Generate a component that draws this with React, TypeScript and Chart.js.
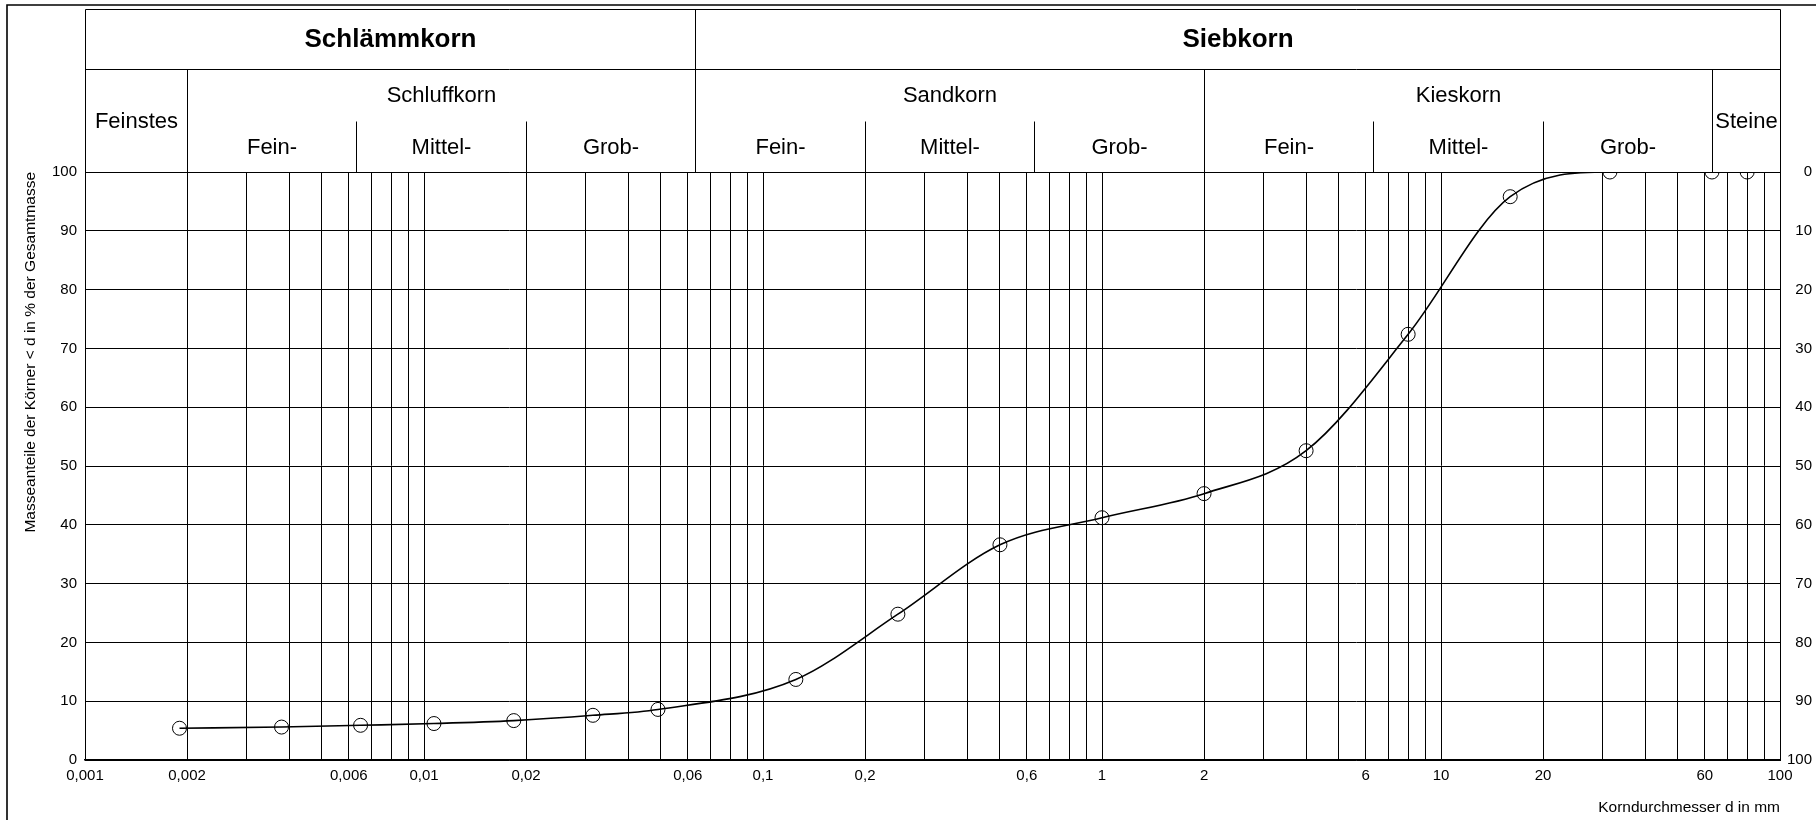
import React, { useEffect, useRef } from 'react';
import { Chart, registerables } from 'chart.js';

Chart.register(...registerables);

// Sieve / sedimentation results: grain diameter d [mm] and mass passing [%]
const grainSize = [0.0019, 0.0038, 0.0065, 0.0107, 0.0184, 0.0315, 0.049, 0.125, 0.25, 0.5, 1, 2, 4, 8, 16, 31.5, 63, 80];
const passing = [5.4, 5.6, 5.9, 6.2, 6.7, 7.6, 8.6, 13.7, 24.8, 36.6, 41.2, 45.3, 52.6, 72.4, 95.8, 100, 100, 100];

// Labelled diameters on the grain-size axis
const xLabelValues = [0.001, 0.002, 0.006, 0.01, 0.02, 0.06, 0.1, 0.2, 0.6, 1, 2, 6, 10, 20, 60, 100];
const xLabelTexts = ['0,001', '0,002', '0,006', '0,01', '0,02', '0,06', '0,1', '0,2', '0,6', '1', '2', '6', '10', '20', '60', '100'];

// Decades used for the log grid (1..9 x 10^k)
const gridDecades = [0.001, 0.01, 0.1, 1, 10];
const gridMultipliers = [1, 2, 3, 4, 5, 6, 7, 8, 9];

// Soil classification header (DIN 4022)
const mainGroupNames = ['Schlämmkorn', 'Siebkorn'];
const mainGroupBounds = [0.001, 0.063, 100];
const soilGroupNames = ['Feinstes', 'Schluffkorn', 'Sandkorn', 'Kieskorn', 'Steine'];
const soilGroupBounds = [0.001, 0.002, 0.063, 2, 63, 100];
const subdividedGroups = ['Schluffkorn', 'Sandkorn', 'Kieskorn'];
const subNames = ['Fein-', 'Mittel-', 'Grob-'];
const subBounds = [
  [0.002, 0.0063, 0.02, 0.063],
  [0.063, 0.2, 0.63, 2],
  [2, 6.3, 20, 63],
];

const W = 1816;
const H = 820;
const FONT = '"Liberation Sans", Arial, Helvetica, sans-serif';

const HEADER_TOP = 9;
const ROW1_BOTTOM = 69;
const SUB_TOP = 121;
const PLOT_TOP = 172;

const headerPlugin = {
  id: 'soilHeader',
  afterDraw(chart: any) {
    const { ctx, chartArea, scales } = chart;
    const xs = (v: number) => Math.round(scales.x.getPixelForValue(v)) + 0.5;
    const left = xs(0.001);
    const right = xs(100);
    const bottom = chartArea.top;
    const hy = (v: number) => Math.round(v) + 0.5;

    ctx.save();
    // outer sheet frame
    ctx.strokeStyle = '#000';
    ctx.lineWidth = 1.6;
    ctx.beginPath();
    ctx.moveTo(W + 2, 5);
    ctx.lineTo(7, 5);
    ctx.lineTo(7, H + 2);
    ctx.stroke();

    ctx.lineWidth = 1;
    ctx.beginPath();
    // header box and row separator
    ctx.rect(left, hy(HEADER_TOP), right - left, hy(bottom) - hy(HEADER_TOP));
    ctx.moveTo(left, hy(ROW1_BOTTOM));
    ctx.lineTo(right, hy(ROW1_BOTTOM));
    // Schlämmkorn / Siebkorn divider
    ctx.moveTo(xs(mainGroupBounds[1]), hy(HEADER_TOP));
    ctx.lineTo(xs(mainGroupBounds[1]), hy(bottom));
    // soil group dividers
    for (let i = 1; i < soilGroupBounds.length - 1; i++) {
      const x = xs(soilGroupBounds[i]);
      ctx.moveTo(x, hy(ROW1_BOTTOM));
      ctx.lineTo(x, hy(bottom));
    }
    // fine / medium / coarse dividers
    subBounds.forEach((b) => {
      [b[1], b[2]].forEach((v) => {
        const x = xs(v);
        ctx.moveTo(x, hy(SUB_TOP));
        ctx.lineTo(x, hy(bottom));
      });
    });
    ctx.stroke();

    ctx.fillStyle = '#000';
    ctx.textAlign = 'center';
    ctx.textBaseline = 'middle';

    ctx.font = `bold 26px ${FONT}`;
    mainGroupNames.forEach((name, i) => {
      const cx = (xs(mainGroupBounds[i]) + xs(mainGroupBounds[i + 1])) / 2;
      ctx.fillText(name, cx, (HEADER_TOP + ROW1_BOTTOM) / 2 + 1);
    });

    ctx.font = `22px ${FONT}`;
    soilGroupNames.forEach((name, i) => {
      const cx = (xs(soilGroupBounds[i]) + xs(soilGroupBounds[i + 1])) / 2;
      const cy = subdividedGroups.includes(name) ? (ROW1_BOTTOM + SUB_TOP) / 2 : (ROW1_BOTTOM + bottom) / 2;
      ctx.fillText(name, cx, cy + 1);
    });
    subBounds.forEach((b) => {
      subNames.forEach((name, j) => {
        const cx = (xs(b[j]) + xs(b[j + 1])) / 2;
        ctx.fillText(name, cx, (SUB_TOP + bottom) / 2 + 1);
      });
    });
    ctx.restore();
  },
};

export default function App() {
  const canvasRef = useRef<HTMLCanvasElement | null>(null);

  useEffect(() => {
    const canvas = canvasRef.current;
    if (!canvas) return;
    Chart.defaults.font.family = FONT;
    Chart.defaults.color = '#000';

    const gridValues: number[] = [];
    gridDecades.forEach((d) => gridMultipliers.forEach((m) => gridValues.push(+(m * d).toPrecision(3))));
    gridValues.push(100);

    const labelFor = (v: number) => {
      const idx = xLabelValues.findIndex((lv) => Math.abs(lv - v) / lv < 1e-6);
      return idx >= 0 ? xLabelTexts[idx] : '';
    };

    const chart = new Chart(canvas, {
      type: 'line',
      data: {
        datasets: [
          {
            data: grainSize.map((d, i) => ({ x: d, y: passing[i] })),
            borderColor: '#000',
            borderWidth: 1.6,
            cubicInterpolationMode: 'monotone',
            pointRadius: 7,
            pointHoverRadius: 7,
            pointBorderWidth: 1,
            pointBorderColor: '#000',
            pointBackgroundColor: 'rgba(0,0,0,0)',
            fill: false,
          },
        ],
      },
      options: {
        animation: false,
        responsive: false,
        events: [],
        layout: { padding: { top: PLOT_TOP, left: 0, right: 4, bottom: 0 } },
        plugins: {
          legend: { display: false },
          tooltip: { enabled: false },
        },
        scales: {
          x: {
            type: 'logarithmic',
            min: 0.001,
            max: 100,
            afterBuildTicks: (scale: any) => {
              scale.ticks = gridValues.map((v) => ({ value: v }));
            },
            afterFit: (scale: any) => {
              scale.height = H - 760;
            },
            grid: { color: '#000', lineWidth: 1, drawTicks: false },
            border: { display: true, color: '#000', width: 1.5 },
            ticks: {
              autoSkip: false,
              maxRotation: 0,
              padding: 7,
              font: { size: 15 },
              color: '#000',
              callback: (v: any) => labelFor(Number(v)),
            },
            title: {
              display: true,
              text: 'Korndurchmesser d in mm',
              align: 'end',
              font: { size: 15.5 },
              color: '#000',
              padding: { top: 0, bottom: 3 },
            },
          },
          y: {
            type: 'linear',
            position: 'left',
            min: 0,
            max: 100,
            afterFit: (scale: any) => {
              scale.width = 85;
            },
            grid: { color: '#000', lineWidth: 1, drawTicks: false },
            border: { display: true, color: '#000', width: 1 },
            ticks: { stepSize: 10, padding: 8, font: { size: 15 }, color: '#000' },
            title: {
              display: true,
              text: 'Masseanteile der Körner < d in % der Gesamtmasse',
              align: 'end',
              font: { size: 15.5 },
              color: '#000',
              padding: { top: 21, bottom: 0 },
            },
          },
          yRight: {
            type: 'linear',
            position: 'right',
            min: 0,
            max: 100,
            reverse: true,
            afterFit: (scale: any) => {
              scale.width = 32;
            },
            grid: { display: false, drawTicks: false },
            border: { display: true, color: '#000', width: 1 },
            ticks: { stepSize: 10, padding: 6, crossAlign: 'far', font: { size: 15 }, color: '#000' },
          },
        },
      },
      plugins: [headerPlugin],
    } as any);

    return () => chart.destroy();
  }, []);

  return (
    <div style={{ position: 'fixed', left: 0, top: 0, width: W, height: H, background: '#fff' }}>
      <canvas ref={canvasRef} width={W} height={H} style={{ display: 'block', width: W, height: H }} />
    </div>
  );
}
